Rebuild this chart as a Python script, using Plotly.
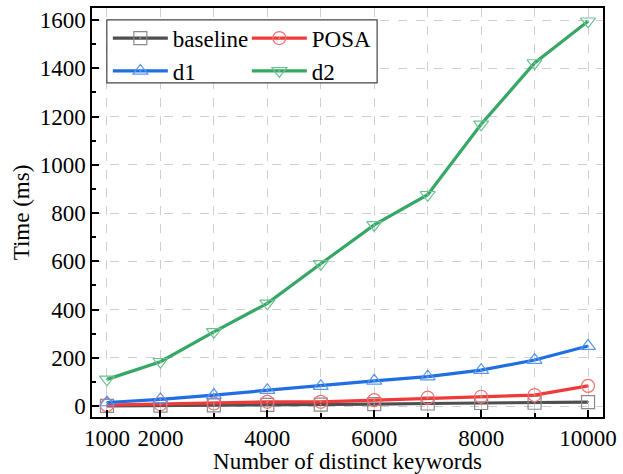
import plotly.graph_objects as go

keywords = [1000, 2000, 3000, 4000, 5000, 6000, 7000, 8000, 9000, 10000]
baseline = [1, 2, 3, 5, 6, 8, 11, 13, 14, 17]
posa = [4, 8, 11, 18, 18, 25, 35, 39, 46, 84]
d1 = [15, 28, 46, 66, 83, 105, 122, 149, 191, 249]
d2 = [111, 184, 308, 426, 590, 751, 876, 1168, 1422, 1595]
x_tickvals = [1000, 2000, 4000, 6000, 8000, 10000]
x_ticktext = ["1000", "2000", "4000", "6000", "8000", "10000"]
y_tickvals = [0, 200, 400, 600, 800, 1000, 1200, 1400, 1600]
y_ticktext = ["0", "200", "400", "600", "800", "1000", "1200", "1400", "1600"]

series = [
    ("baseline", baseline, "#4f4f4f", "#8a8a8a", "square-open-dot", "legend"),
    ("POSA", posa, "#f03a3a", "#f47070", "circle-open-dot", "legend2"),
    ("d1", d1, "#1f6fe0", "#5b97ee", "triangle-up-open-dot", "legend"),
    ("d2", d2, "#36a765", "#6cc291", "triangle-down-open-dot", "legend2"),
]

fig = go.Figure()
for name, vals, lc, mc, sym, lg in series:
    fig.add_trace(go.Scatter(
        x=keywords, y=vals, name=name, mode="lines+markers", legend=lg,
        line=dict(color=lc, width=3.2),
        marker=dict(symbol=sym, size=13, color=mc, line=dict(color=mc, width=1.2)),
    ))

font = dict(family="Liberation Serif, Times New Roman, serif", size=23, color="black")
lfont = dict(family="Liberation Serif, Times New Roman, serif", size=23, color="black")

fig.update_layout(
    width=623, height=474,
    margin=dict(l=92, r=20, t=8, b=57),
    paper_bgcolor="white", plot_bgcolor="white",
    font=font,
    showlegend=True,
    legend=dict(
        orientation="v", x=0.031, y=0.979, xanchor="left", yanchor="top",
        bgcolor="rgba(0,0,0,0)", borderwidth=0, font=lfont, tracegroupgap=0,
        itemwidth=55,
    ),
    legend2=dict(
        orientation="v", x=0.303, y=0.979, xanchor="left", yanchor="top",
        bgcolor="rgba(0,0,0,0)", borderwidth=0, font=lfont, tracegroupgap=0,
        itemwidth=55,
    ),
    shapes=[dict(
        type="rect", xref="paper", yref="paper", layer="above",
        x0=0.029, x1=0.558, y0=0.817, y1=0.971,
        fillcolor="white", line=dict(color="#444", width=1.2),
    )],
    xaxis=dict(
        range=[720, 10280], tickvals=x_tickvals, ticktext=x_ticktext,
        automargin=False,
        ticks="inside", ticklen=7, tickwidth=1.5, tickcolor="black",
        showline=True, linecolor="black", linewidth=1.5, mirror=True,
        showgrid=True, gridcolor="#cfcfcf", griddash="dash", gridwidth=1,
        minor=dict(tick0=1000, dtick=1000, ticks="inside", ticklen=4, tickcolor="black",
                   showgrid=True, gridcolor="#cfcfcf", griddash="dash"),
        zeroline=False,
        title=dict(text="Number of distinct keywords", standoff=2, font=font),
        tickfont=font,
    ),
    yaxis=dict(
        range=[-45, 1650], tickvals=y_tickvals, ticktext=y_ticktext,
        automargin=False,
        ticks="inside", ticklen=7, tickwidth=1.5, tickcolor="black",
        showline=True, linecolor="black", linewidth=1.5, mirror=True,
        showgrid=True, gridcolor="#cfcfcf", griddash="dash", gridwidth=1,
        minor=dict(tick0=0, dtick=100, ticks="inside", ticklen=4, tickcolor="black", showgrid=False),
        zeroline=False,
        title=dict(text="Time (ms)", standoff=4, font=font),
        tickfont=font,
    ),
)

fig.write_html("out.html", config={"displayModeBar": False},
               post_script="document.body.style.margin='0';document.body.style.padding='0';")
